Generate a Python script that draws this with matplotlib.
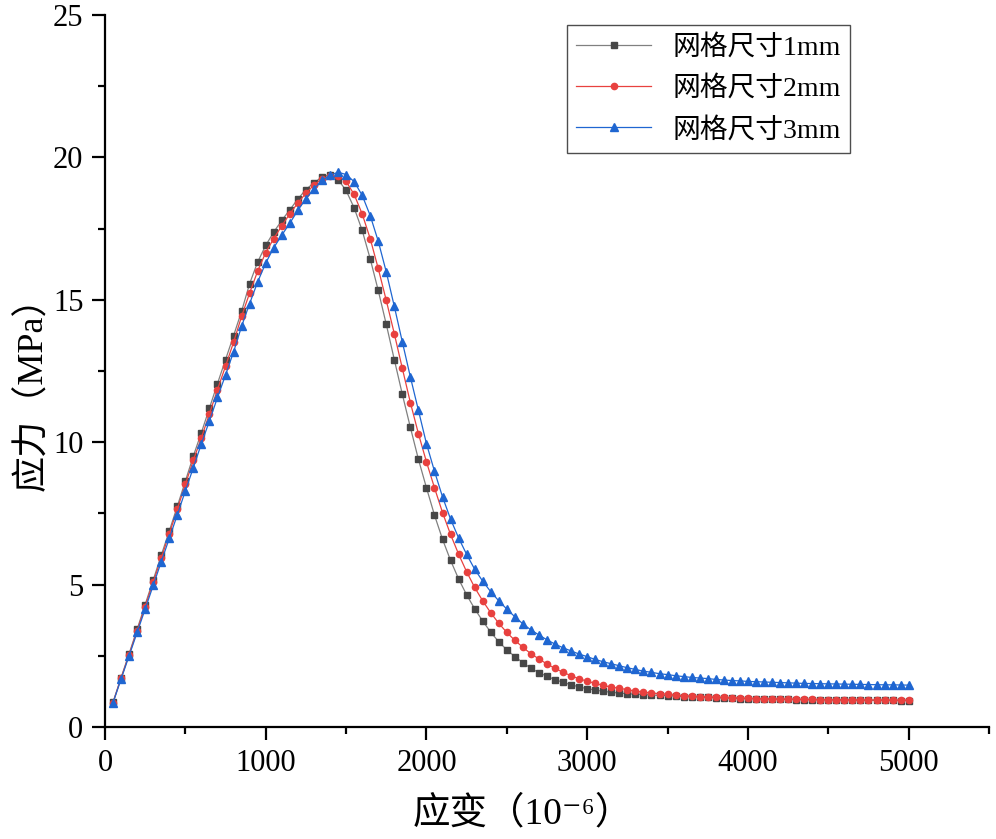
import numpy as np
import matplotlib
matplotlib.use("Agg")
import matplotlib.pyplot as plt
from matplotlib.ticker import MultipleLocator

plt.rcParams['font.family'] = ['Liberation Serif', 'Noto Sans CJK SC', 'DejaVu Sans']

strain = np.arange(50, 5001, 50)

mesh_1mm = [
    0.87, 1.73, 2.57, 3.43, 4.30, 5.16, 6.03, 6.88, 7.75, 8.63,
    9.52, 10.34, 11.20, 12.06, 12.90, 13.74, 14.60, 15.57, 16.33, 16.91,
    17.38, 17.79, 18.16, 18.54, 18.87, 19.11, 19.31, 19.39, 19.22, 18.84,
    18.23, 17.44, 16.44, 15.33, 14.14, 12.90, 11.68, 10.52, 9.40, 8.40,
    7.44, 6.59, 5.85, 5.20, 4.64, 4.15, 3.72, 3.33, 2.99, 2.71,
    2.47, 2.26, 2.06, 1.91, 1.78, 1.66, 1.57, 1.48, 1.41, 1.34,
    1.30, 1.25, 1.22, 1.19, 1.17, 1.15, 1.14, 1.12, 1.11, 1.10,
    1.09, 1.07, 1.06, 1.05, 1.04, 1.03, 1.02, 1.01, 1.00, 0.995,
    0.99, 0.985, 0.98, 0.975, 0.97, 0.965, 0.96, 0.955, 0.955, 0.95,
    0.95, 0.945, 0.945, 0.94, 0.94, 0.935, 0.935, 0.935, 0.93, 0.93,
]

mesh_2mm = [
    0.86, 1.71, 2.54, 3.38, 4.23, 5.08, 5.93, 6.78, 7.65, 8.52,
    9.37, 10.16, 11.00, 11.85, 12.67, 13.51, 14.42, 15.24, 16.01, 16.66,
    17.15, 17.60, 18.02, 18.40, 18.74, 19.03, 19.25, 19.34, 19.33, 19.16,
    18.70, 18.02, 17.15, 16.10, 14.98, 13.81, 12.59, 11.39, 10.30, 9.31,
    8.40, 7.53, 6.76, 6.07, 5.45, 4.90, 4.43, 4.01, 3.64, 3.32,
    3.04, 2.80, 2.57, 2.39, 2.21, 2.06, 1.92, 1.80, 1.69, 1.61,
    1.53, 1.46, 1.40, 1.36, 1.31, 1.26, 1.23, 1.19, 1.17, 1.15,
    1.12, 1.10, 1.09, 1.07, 1.06, 1.05, 1.04, 1.03, 1.02, 1.01,
    1.00, 0.995, 0.99, 0.985, 0.98, 0.975, 0.97, 0.97, 0.965, 0.96,
    0.96, 0.955, 0.955, 0.95, 0.95, 0.95, 0.95, 0.945, 0.945, 0.945,
]

mesh_3mm = [
    0.85, 1.68, 2.50, 3.32, 4.14, 4.97, 5.80, 6.62, 7.45, 8.29,
    9.11, 9.95, 10.75, 11.57, 12.36, 13.17, 14.07, 14.87, 15.63, 16.29,
    16.83, 17.27, 17.69, 18.14, 18.55, 18.89, 19.19, 19.37, 19.48, 19.40,
    19.15, 18.67, 17.96, 17.06, 15.98, 14.77, 13.52, 12.29, 11.12, 9.95,
    8.98, 8.08, 7.30, 6.64, 6.06, 5.54, 5.12, 4.75, 4.43, 4.14,
    3.87, 3.62, 3.41, 3.23, 3.06, 2.91, 2.78, 2.67, 2.56, 2.47,
    2.37, 2.29, 2.22, 2.15, 2.08, 2.02, 1.96, 1.92, 1.87, 1.84,
    1.80, 1.77, 1.74, 1.72, 1.70, 1.67, 1.65, 1.63, 1.62, 1.60,
    1.59, 1.58, 1.57, 1.56, 1.55, 1.54, 1.53, 1.525, 1.52, 1.515,
    1.51, 1.505, 1.50, 1.495, 1.49, 1.485, 1.48, 1.48, 1.475, 1.47,
]

labels = ['网格尺寸1mm', '网格尺寸2mm', '网格尺寸3mm']

fig = plt.figure(figsize=(9.96, 8.39), dpi=100)
ax = fig.add_axes([0.1054, 0.1335, 0.8876, 0.8486])

ax.plot(strain, mesh_1mm, color='#808080', lw=0.9, marker='s', ms=4.5,
        mfc='#474747', mec='#474747', label=labels[0])
ax.plot(strain, mesh_2mm, color='#e8413f', lw=0.9, marker='o', ms=4.5,
        mfc='#e8413f', mec='#e8413f', label=labels[1])
ax.plot(strain, mesh_3mm, color='#1f66d1', lw=0.9, marker='^', ms=5.5,
        mfc='#1f66d1', mec='#1f66d1', label=labels[2])

ax.set_xlim(0, 5500)
ax.set_ylim(0, 25)
ax.xaxis.set_major_locator(MultipleLocator(1000))
ax.xaxis.set_minor_locator(MultipleLocator(500))
ax.yaxis.set_major_locator(MultipleLocator(5))
ax.yaxis.set_minor_locator(MultipleLocator(2.5))

for s in ['top', 'right']:
    ax.spines[s].set_visible(False)
for s in ['left', 'bottom']:
    ax.spines[s].set_linewidth(1.6)

ax.tick_params(which='major', direction='out', length=9.5, width=1.6,
               labelsize=22, pad=6)
ax.tick_params(which='minor', direction='out', length=5, width=1.6)

ax.set_xlabel('应变（10⁻⁶）', fontsize=27)
ax.set_ylabel('应力（MPa）', fontsize=26)
ax.xaxis.set_label_coords(0.473, -0.097)
ax.yaxis.set_label_coords(-0.062, 0.48)

leg = ax.legend(loc='upper right', bbox_to_anchor=(0.843, 0.986), fontsize=20,
                frameon=True, fancybox=False, edgecolor='#222222',
                handlelength=2.7, handletextpad=0.75, borderpad=0.35,
                labelspacing=0.55, borderaxespad=0)
leg.get_frame().set_linewidth(1.0)

fig.savefig('out.png', dpi=100)
